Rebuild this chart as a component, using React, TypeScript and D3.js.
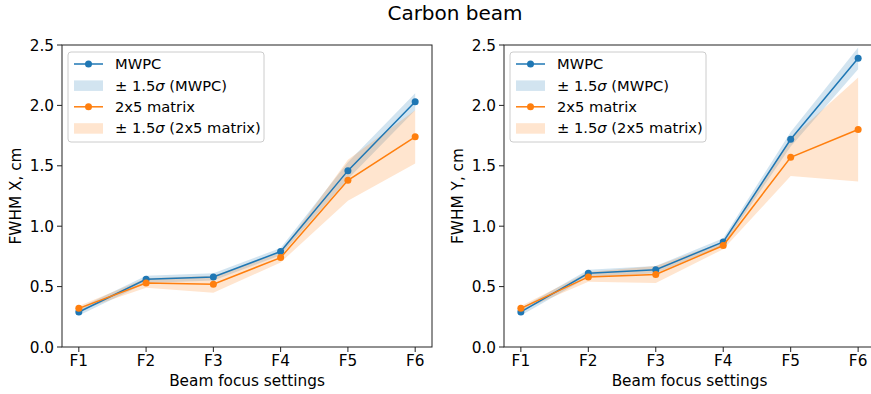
import React, { useRef, useEffect } from 'react';
import * as d3 from 'd3';

// Beam focus settings on the x axis
const settings = ['F1', 'F2', 'F3', 'F4', 'F5', 'F6'];
const yTicks = [0, 0.5, 1.0, 1.5, 2.0, 2.5];

// FWHM X, cm
const mwpcX = [0.29, 0.56, 0.58, 0.79, 1.46, 2.03];
const mwpcXErr = [0.03, 0.03, 0.03, 0.03, 0.07, 0.07];
const matrixX = [0.32, 0.53, 0.52, 0.74, 1.38, 1.74];
const matrixXErr = [0.02, 0.04, 0.07, 0.04, 0.17, 0.22];

// FWHM Y, cm
const mwpcY = [0.29, 0.61, 0.64, 0.87, 1.72, 2.39];
const mwpcYErr = [0.03, 0.03, 0.03, 0.03, 0.06, 0.09];
const matrixY = [0.32, 0.58, 0.60, 0.84, 1.57, 1.80];
const matrixYErr = [0.02, 0.04, 0.07, 0.03, 0.155, 0.43];

const BLUE = '#1f77b4';
const ORANGE = '#ff7f0e';
const FONT = 'DejaVu Sans, sans-serif';
const AXIS_FONT = 15.3;
const LEGEND_FONT = 14.7;

const App = () => {
    const svgRef = useRef(null);
    const width = 871;
    const height = 394;

    useEffect(() => {
        const svg = d3.select(svgRef.current);
        svg.selectAll('*').remove();

        svg.append('text')
            .attr('x', 455)
            .attr('y', 20)
            .attr('text-anchor', 'middle')
            .attr('font-family', FONT)
            .attr('font-size', 20)
            .text('Carbon beam');

        const panels = [
            { left: 62, right: 432, label: 'FWHM X, cm', mwpc: mwpcX, mwpcErr: mwpcXErr, matrix: matrixX, matrixErr: matrixXErr },
            { left: 504, right: 875, label: 'FWHM Y, cm', mwpc: mwpcY, mwpcErr: mwpcYErr, matrix: matrixY, matrixErr: matrixYErr },
        ];
        const top = 45;
        const bottom = 347;

        panels.forEach((p) => {
            const g = svg.append('g');

            // matplotlib-like 5% margins on the categorical axis
            const x = d3.scaleLinear()
                .domain([-0.25, settings.length - 0.75])
                .range([p.left, p.right]);
            const y = d3.scaleLinear().domain([0, 2.5]).range([bottom, top]);

            const series = [
                { values: p.mwpc, err: p.mwpcErr, color: BLUE },
                { values: p.matrix, err: p.matrixErr, color: ORANGE },
            ];

            // bands first (fill_between sits under the lines)
            series.forEach((s) => {
                const area = d3.area()
                    .x((d, i) => x(i))
                    .y0((d, i) => y(d - s.err[i]))
                    .y1((d, i) => y(d + s.err[i]));
                g.append('path')
                    .attr('d', area(s.values))
                    .attr('fill', s.color)
                    .attr('fill-opacity', 0.2);
            });

            series.forEach((s) => {
                const line = d3.line().x((d, i) => x(i)).y((d) => y(d));
                g.append('path')
                    .attr('d', line(s.values))
                    .attr('fill', 'none')
                    .attr('stroke', s.color)
                    .attr('stroke-width', 1.5);
                g.selectAll(null)
                    .data(s.values)
                    .join('circle')
                    .attr('cx', (d, i) => x(i))
                    .attr('cy', (d) => y(d))
                    .attr('r', 3.5)
                    .attr('fill', s.color);
            });

            // frame
            g.append('rect')
                .attr('x', p.left)
                .attr('y', top)
                .attr('width', p.right - p.left)
                .attr('height', bottom - top)
                .attr('fill', 'none')
                .attr('stroke', '#222')
                .attr('stroke-width', 1);

            // y ticks
            yTicks.forEach((t) => {
                g.append('line')
                    .attr('x1', p.left - 5).attr('x2', p.left)
                    .attr('y1', y(t)).attr('y2', y(t))
                    .attr('stroke', '#222');
                g.append('text')
                    .attr('x', p.left - 8)
                    .attr('y', y(t))
                    .attr('dy', '0.36em')
                    .attr('text-anchor', 'end')
                    .attr('font-family', FONT)
                    .attr('font-size', AXIS_FONT)
                    .text(t.toFixed(1));
            });

            // x ticks
            settings.forEach((s, i) => {
                g.append('line')
                    .attr('x1', x(i)).attr('x2', x(i))
                    .attr('y1', bottom).attr('y2', bottom + 5)
                    .attr('stroke', '#222');
                g.append('text')
                    .attr('x', x(i))
                    .attr('y', 366)
                    .attr('text-anchor', 'middle')
                    .attr('font-family', FONT)
                    .attr('font-size', AXIS_FONT)
                    .text(s);
            });

            g.append('text')
                .attr('x', (p.left + p.right) / 2)
                .attr('y', 386)
                .attr('text-anchor', 'middle')
                .attr('font-family', FONT)
                .attr('font-size', AXIS_FONT)
                .text('Beam focus settings');

            g.append('text')
                .attr('transform', `translate(${p.left - 47},${(top + bottom) / 2}) rotate(-90)`)
                .attr('dy', '0.36em')
                .attr('text-anchor', 'middle')
                .attr('font-family', FONT)
                .attr('font-size', AXIS_FONT)
                .text(p.label);

            // legend
            const lx = p.left + 6;
            const ly = top + 7;
            const legend = g.append('g').attr('transform', `translate(${lx},${ly})`);
            legend.append('rect')
                .attr('width', 196)
                .attr('height', 90)
                .attr('rx', 3)
                .attr('fill', 'white')
                .attr('fill-opacity', 0.8)
                .attr('stroke', '#ccc');

            const items = [
                { kind: 'line', color: BLUE, text: 'MWPC' },
                { kind: 'band', color: BLUE, text: ['± 1.5', 'σ', ' (MWPC)'] },
                { kind: 'line', color: ORANGE, text: '2x5 matrix' },
                { kind: 'band', color: ORANGE, text: ['± 1.5', 'σ', ' (2x5 matrix)'] },
            ];
            items.forEach((it, k) => {
                const cy = 12 + k * 21.4;
                if (it.kind === 'line') {
                    legend.append('line')
                        .attr('x1', 6).attr('x2', 35)
                        .attr('y1', cy).attr('y2', cy)
                        .attr('stroke', it.color)
                        .attr('stroke-width', 1.5);
                    legend.append('circle')
                        .attr('cx', 20.5).attr('cy', cy)
                        .attr('r', 3.5)
                        .attr('fill', it.color);
                } else {
                    legend.append('rect')
                        .attr('x', 6).attr('y', cy - 5)
                        .attr('width', 29).attr('height', 10.5)
                        .attr('fill', it.color)
                        .attr('fill-opacity', 0.2);
                }
                const txt = legend.append('text')
                    .attr('x', 47)
                    .attr('y', cy)
                    .attr('dy', '0.36em')
                    .attr('font-family', FONT)
                    .attr('font-size', LEGEND_FONT);
                if (Array.isArray(it.text)) {
                    txt.append('tspan').text(it.text[0]);
                    txt.append('tspan').attr('font-style', 'italic').text(it.text[1]);
                    txt.append('tspan').text(it.text[2]);
                } else {
                    txt.text(it.text);
                }
            });
        });
    }, []);

    return (
        <svg
            ref={svgRef}
            width={width}
            height={height}
            style={{ position: 'absolute', left: 0, top: 0, background: 'white' }}
        />
    );
};

export default App;
